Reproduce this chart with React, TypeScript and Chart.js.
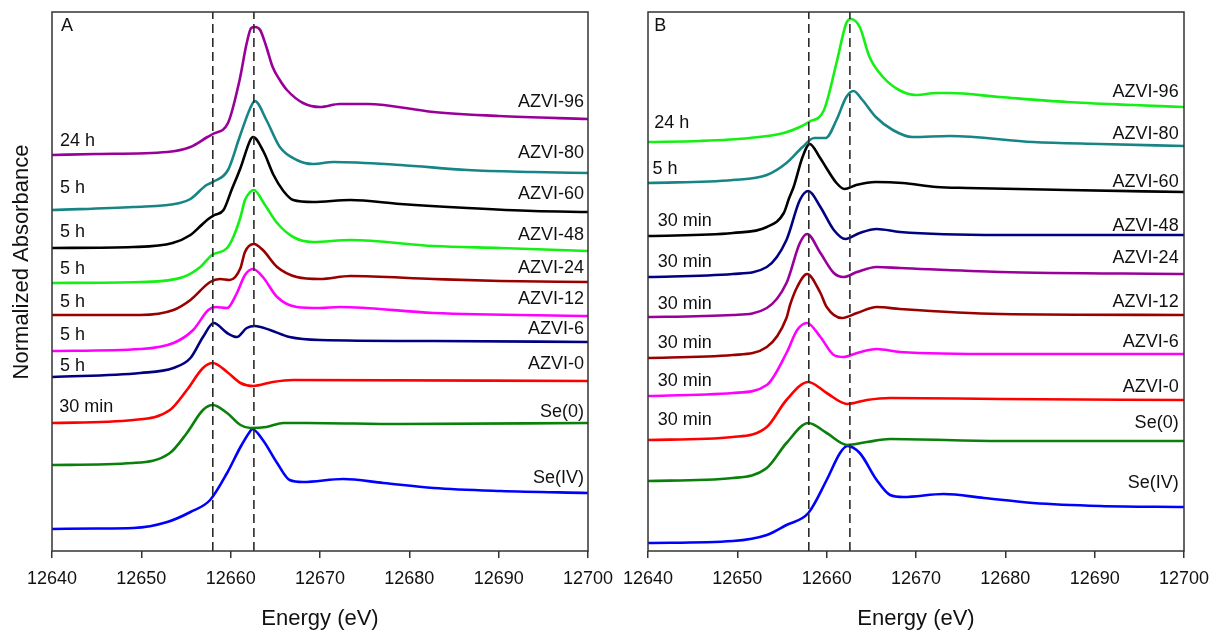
import React, { useEffect, useRef } from "react";
import { Chart, registerables } from "chart.js";

Chart.register(...registerables);

const FONT = '"Liberation Sans", Arial, Helvetica, sans-serif';

// ---- axes ----
const X_MIN = 12640;
const X_MAX = 12700;
const X_STEP = 10;
const Y_MIN = 0;
const Y_MAX = 5.39;
const DASH_E = [12658, 12662.6];

// ---- colours ----
const PURPLE = "#990099";
const TEAL = "#178585";
const BLACK = "#000000";
const LIME = "#14f014";
const DARKRED = "#990000";
const MAGENTA = "#ff00ff";
const NAVY = "#000080";
const RED = "#ff0000";
const GREEN = "#0a800a";
const BLUE = "#0000ff";

// ---- Panel A data (energy eV, offset normalized absorbance) ----
const A_96_E = [12640, 12645, 12652.9, 12655.5, 12657.4, 12658, 12659.7, 12661, 12661.8, 12662.3, 12662.7, 12663.3, 12664, 12664.7, 12665.5, 12666.3, 12668.1, 12670, 12672.2, 12675.3, 12682.7, 12690, 12700];
const A_96_Y = [3.96, 3.97, 3.99, 4.04, 4.14, 4.17, 4.28, 4.71, 5.08, 5.23, 5.24, 5.21, 5.04, 4.84, 4.71, 4.61, 4.48, 4.44, 4.47, 4.47, 4.39, 4.35, 4.32];

const A_80_E = [12640, 12649.1, 12654.3, 12655.5, 12657.3, 12658, 12659.7, 12661, 12662.2, 12662.7, 12664, 12665.5, 12667.4, 12669.2, 12671.5, 12679, 12686.5, 12693.9, 12700];
const A_80_Y = [3.41, 3.44, 3.48, 3.52, 3.66, 3.69, 3.81, 4.14, 4.43, 4.5, 4.31, 4.04, 3.91, 3.87, 3.89, 3.86, 3.81, 3.79, 3.78];

const A_60_E = [12640, 12649.1, 12653.5, 12655.5, 12656.5, 12657.5, 12658.2, 12659.2, 12660.1, 12661.1, 12662.2, 12662.5, 12663.7, 12664.8, 12665.9, 12667, 12669.2, 12673.4, 12679, 12686.5, 12693.9, 12700];
const A_60_Y = [3.03, 3.04, 3.08, 3.16, 3.24, 3.32, 3.36, 3.41, 3.61, 3.83, 4.11, 4.14, 3.99, 3.76, 3.6, 3.51, 3.49, 3.51, 3.47, 3.43, 3.4, 3.39];

const A_48_E = [12640, 12649.9, 12654.7, 12656.6, 12657.9, 12659.6, 12660.3, 12661.1, 12661.6, 12662.2, 12662.6, 12663.7, 12665.2, 12667, 12669.2, 12673.4, 12682.7, 12690.2, 12700];
const A_48_Y = [2.68, 2.69, 2.74, 2.84, 2.96, 3.03, 3.14, 3.34, 3.51, 3.59, 3.61, 3.48, 3.28, 3.14, 3.09, 3.11, 3.05, 3.03, 3.0];

const A_24_E = [12640, 12649.9, 12653.6, 12655.5, 12657.7, 12658.8, 12659.9, 12661.1, 12661.6, 12662.6, 12663.6, 12665.2, 12667.4, 12670, 12673.4, 12682.7, 12690.2, 12700];
const A_24_Y = [2.36, 2.36, 2.41, 2.51, 2.69, 2.72, 2.71, 2.83, 2.99, 3.07, 3.01, 2.84, 2.74, 2.72, 2.75, 2.72, 2.7, 2.69];

const A_12_E = [12640, 12649.9, 12653.6, 12655.8, 12657.5, 12658.3, 12659.6, 12660.7, 12661.6, 12662.5, 12663.6, 12665.2, 12667.4, 12670, 12672.2, 12682.7, 12700];
const A_12_Y = [2.0, 2.02, 2.08, 2.21, 2.41, 2.44, 2.43, 2.58, 2.76, 2.82, 2.74, 2.54, 2.44, 2.43, 2.44, 2.38, 2.35];

const A_6_E = [12640, 12649.9, 12653.6, 12655.5, 12656.9, 12658.1, 12659.6, 12660.7, 12661.8, 12662.7, 12664.4, 12666.6, 12670, 12682.7, 12700];
const A_6_Y = [1.74, 1.78, 1.83, 1.93, 2.14, 2.28, 2.18, 2.14, 2.23, 2.25, 2.21, 2.14, 2.11, 2.1, 2.09];

const A_0_E = [12640, 12649.1, 12653.2, 12655.1, 12656.9, 12658, 12659.6, 12661.1, 12662.5, 12664.7, 12667, 12700];
const A_0_Y = [1.28, 1.31, 1.41, 1.61, 1.83, 1.88, 1.79, 1.68, 1.65, 1.69, 1.71, 1.7];

const A_SE0_E = [12640, 12649.1, 12653.2, 12655.1, 12656.9, 12658, 12659.6, 12661.1, 12662.2, 12664, 12665.9, 12668.5, 12679, 12700];
const A_SE0_Y = [0.86, 0.88, 0.98, 1.18, 1.41, 1.46, 1.38, 1.26, 1.23, 1.24, 1.28, 1.28, 1.27, 1.28];

const A_SE4_E = [12640, 12645, 12649.1, 12652.9, 12655.5, 12657.7, 12659.6, 12661.1, 12662.2, 12662.4, 12663.6, 12665.2, 12666.6, 12668.1, 12672.6, 12677.1, 12682.7, 12690.2, 12700];
const A_SE4_Y = [0.22, 0.225, 0.23, 0.29, 0.39, 0.51, 0.78, 1.04, 1.2, 1.22, 1.11, 0.88, 0.71, 0.69, 0.72, 0.68, 0.63, 0.6, 0.58];

// ---- Panel B data ----
const B_96_E = [12640, 12645.8, 12651.4, 12655.2, 12657, 12658, 12659.7, 12661.1, 12662.2, 12662.7, 12663.7, 12664.8, 12666.3, 12668.1, 12670, 12672.3, 12673.8, 12679.4, 12686.9, 12694.3, 12700];
const B_96_Y = [4.09, 4.1, 4.13, 4.18, 4.24, 4.29, 4.41, 4.88, 5.28, 5.32, 5.24, 4.94, 4.74, 4.61, 4.56, 4.58, 4.58, 4.54, 4.49, 4.46, 4.44];

const B_80_E = [12640, 12649.5, 12653.3, 12655.5, 12657.3, 12658.6, 12659.9, 12661.1, 12662.2, 12663, 12664, 12665.5, 12667.4, 12669.6, 12673.8, 12683.1, 12690.6, 12700];
const B_80_Y = [3.68, 3.71, 3.76, 3.88, 4.04, 4.13, 4.13, 4.31, 4.54, 4.6, 4.51, 4.34, 4.21, 4.14, 4.15, 4.09, 4.07, 4.05];

const B_60_E = [12640, 12649.5, 12653.3, 12655.2, 12655.8, 12656.3, 12657.3, 12658.1, 12659.2, 12659.9, 12661.1, 12662, 12663.3, 12665.5, 12668.5, 12672.3, 12675.7, 12686.9, 12700];
const B_60_Y = [3.15, 3.18, 3.24, 3.38, 3.53, 3.64, 3.94, 4.07, 3.94, 3.84, 3.68, 3.62, 3.66, 3.69, 3.68, 3.64, 3.63, 3.61, 3.59];

const B_48_E = [12640, 12649.5, 12653.3, 12655.5, 12657, 12657.95, 12659.3, 12660.8, 12662.1, 12663.7, 12665.6, 12668.2, 12679.4, 12700];
const B_48_Y = [2.74, 2.77, 2.84, 3.11, 3.51, 3.6, 3.44, 3.21, 3.12, 3.18, 3.22, 3.19, 3.16, 3.16];

const B_24_E = [12640, 12649.5, 12653.3, 12655.5, 12657, 12657.8, 12659.3, 12660.8, 12661.9, 12663.4, 12665.6, 12668.2, 12679.4, 12700];
const B_24_Y = [2.34, 2.36, 2.43, 2.68, 3.08, 3.17, 2.98, 2.78, 2.74, 2.79, 2.84, 2.83, 2.79, 2.77];

const B_12_E = [12640, 12649.5, 12653.3, 12655.5, 12655.9, 12656.7, 12657.8, 12659.3, 12660, 12661.7, 12663.4, 12665.6, 12668.2, 12679.4, 12700];
const B_12_Y = [1.93, 1.96, 2.04, 2.33, 2.46, 2.64, 2.77, 2.58, 2.44, 2.33, 2.38, 2.44, 2.42, 2.37, 2.36];

const B_6_E = [12640, 12649.5, 12653.3, 12655.5, 12656.7, 12657.8, 12659.3, 12660.8, 12661.9, 12663.4, 12665.6, 12668.2, 12679.4, 12700];
const B_6_Y = [1.55, 1.58, 1.66, 1.98, 2.21, 2.28, 2.14, 1.96, 1.94, 1.98, 2.02, 1.99, 1.97, 1.97];

const B_0_E = [12640, 12649.5, 12653.3, 12655.5, 12657.95, 12660, 12662.3, 12664.5, 12667.1, 12679.4, 12700];
const B_0_Y = [1.11, 1.14, 1.24, 1.51, 1.69, 1.58, 1.47, 1.51, 1.53, 1.52, 1.51];

const B_SE0_E = [12640, 12649.5, 12653.3, 12655.5, 12657.95, 12660, 12662.3, 12664.5, 12667.1, 12679.4, 12700];
const B_SE0_Y = [0.7, 0.73, 0.83, 1.08, 1.28, 1.18, 1.06, 1.09, 1.12, 1.1, 1.1];

const B_SE4_E = [12640, 12649.5, 12653.3, 12655.5, 12657.95, 12660, 12661.5, 12662.3, 12663.7, 12665.6, 12667.1, 12668.6, 12673.1, 12677.6, 12683.1, 12690.6, 12700];
const B_SE4_Y = [0.08, 0.1, 0.16, 0.26, 0.38, 0.71, 0.98, 1.05, 0.98, 0.71, 0.56, 0.54, 0.57, 0.53, 0.48, 0.45, 0.44];

// ---- labels ----
const SERIES_NAMES = ["AZVI-96", "AZVI-80", "AZVI-60", "AZVI-48", "AZVI-24", "AZVI-12", "AZVI-6", "AZVI-0", "Se(0)", "Se(IV)"];
const A_RIGHT_Y = [4.44, 3.93, 3.52, 3.11, 2.78, 2.47, 2.17, 1.82, 1.34, 0.68];
const A_RIGHT_X = 12699.55;
const A_LEFT_LABELS = ["24 h", "5 h", "5 h", "5 h", "5 h", "5 h", "5 h", "30 min"];
const A_LEFT_Y = [4.05, 3.58, 3.14, 2.77, 2.44, 2.11, 1.8, 1.39];
const A_LEFT_X = [12640.9, 12640.9, 12640.9, 12640.9, 12640.9, 12640.9, 12640.9, 12640.8];

const B_RIGHT_Y = [4.54, 4.12, 3.64, 3.2, 2.88, 2.44, 2.04, 1.59, 1.23, 0.63];
const B_RIGHT_X = 12699.4;
const B_LEFT_LABELS = ["24 h", "5 h", "30 min", "30 min", "30 min", "30 min", "30 min", "30 min"];
const B_LEFT_Y = [4.23, 3.77, 3.25, 2.84, 2.42, 2.03, 1.65, 1.26];
const B_LEFT_X = [12640.7, 12640.5, 12641.1, 12641.1, 12641.1, 12641.1, 12641.1, 12641.1];

const PANEL_LETTER_Y = 5.2;
const A_LETTER_X = 12641.0;
const B_LETTER_X = 12640.7;

const X_TITLE = "Energy (eV)";
const Y_TITLE = "Normalized Absorbance";

type Series = { name: string; e: number[]; y: number[]; color: string };

const A_SERIES: Series[] = [
  { name: SERIES_NAMES[0], e: A_96_E, y: A_96_Y, color: PURPLE },
  { name: SERIES_NAMES[1], e: A_80_E, y: A_80_Y, color: TEAL },
  { name: SERIES_NAMES[2], e: A_60_E, y: A_60_Y, color: BLACK },
  { name: SERIES_NAMES[3], e: A_48_E, y: A_48_Y, color: LIME },
  { name: SERIES_NAMES[4], e: A_24_E, y: A_24_Y, color: DARKRED },
  { name: SERIES_NAMES[5], e: A_12_E, y: A_12_Y, color: MAGENTA },
  { name: SERIES_NAMES[6], e: A_6_E, y: A_6_Y, color: NAVY },
  { name: SERIES_NAMES[7], e: A_0_E, y: A_0_Y, color: RED },
  { name: SERIES_NAMES[8], e: A_SE0_E, y: A_SE0_Y, color: GREEN },
  { name: SERIES_NAMES[9], e: A_SE4_E, y: A_SE4_Y, color: BLUE },
];

const B_SERIES: Series[] = [
  { name: SERIES_NAMES[0], e: B_96_E, y: B_96_Y, color: LIME },
  { name: SERIES_NAMES[1], e: B_80_E, y: B_80_Y, color: TEAL },
  { name: SERIES_NAMES[2], e: B_60_E, y: B_60_Y, color: BLACK },
  { name: SERIES_NAMES[3], e: B_48_E, y: B_48_Y, color: NAVY },
  { name: SERIES_NAMES[4], e: B_24_E, y: B_24_Y, color: PURPLE },
  { name: SERIES_NAMES[5], e: B_12_E, y: B_12_Y, color: DARKRED },
  { name: SERIES_NAMES[6], e: B_6_E, y: B_6_Y, color: MAGENTA },
  { name: SERIES_NAMES[7], e: B_0_E, y: B_0_Y, color: RED },
  { name: SERIES_NAMES[8], e: B_SE0_E, y: B_SE0_Y, color: GREEN },
  { name: SERIES_NAMES[9], e: B_SE4_E, y: B_SE4_Y, color: BLUE },
];

type PanelCfg = {
  left: number;
  width: number;
  padL: number;
  padR: number;
  series: Series[];
  letter: string;
  letterX: number;
  rightY: number[];
  rightX: number;
  leftLabels: string[];
  leftY: number[];
  leftX: number[];
  yTitle: boolean;
};

const PANELS: PanelCfg[] = [
  {
    left: 0, width: 640, padL: 52, padR: 52, series: A_SERIES, letter: "A", letterX: A_LETTER_X,
    rightY: A_RIGHT_Y, rightX: A_RIGHT_X, leftLabels: A_LEFT_LABELS, leftY: A_LEFT_Y, leftX: A_LEFT_X, yTitle: true,
  },
  {
    left: 600, width: 630, padL: 48, padR: 46, series: B_SERIES, letter: "B", letterX: B_LETTER_X,
    rightY: B_RIGHT_Y, rightX: B_RIGHT_X, leftLabels: B_LEFT_LABELS, leftY: B_LEFT_Y, leftX: B_LEFT_X, yTitle: false,
  },
];

function buildDatasets(series: Series[]) {
  const ds: any[] = [];
  DASH_E.forEach((e) => {
    ds.push({
      data: [{ x: e, y: Y_MIN }, { x: e, y: Y_MAX }],
      borderColor: "#2a2a2a",
      borderWidth: 1.6,
      borderDash: [9, 5],
      pointRadius: 0,
      fill: false,
    });
  });
  series.forEach((s) => {
    ds.push({
      label: s.name,
      data: s.e.map((x, i) => ({ x, y: s.y[i] })),
      borderColor: s.color,
      borderWidth: 2.6,
      pointRadius: 0,
      fill: false,
      cubicInterpolationMode: "monotone",
    });
  });
  return ds;
}

function annotPlugin(cfg: PanelCfg) {
  return {
    id: "annot" + cfg.letter,
    afterDatasetsDraw(chart: any) {
      const ctx = chart.ctx;
      const { left, right, top, bottom } = chart.chartArea;
      const xs = chart.scales.x;
      const ys = chart.scales.y;
      ctx.save();
      ctx.strokeStyle = "#333";
      ctx.lineWidth = 1.5;
      ctx.setLineDash([]);
      ctx.strokeRect(left, top, right - left, bottom - top);

      ctx.fillStyle = "#111";
      ctx.textBaseline = "alphabetic";
      ctx.font = "18px " + FONT;

      ctx.textAlign = "right";
      cfg.series.forEach((s, i) => {
        ctx.fillText(s.name, xs.getPixelForValue(cfg.rightX), ys.getPixelForValue(cfg.rightY[i]));
      });

      ctx.textAlign = "left";
      cfg.leftLabels.forEach((t, i) => {
        ctx.fillText(t, xs.getPixelForValue(cfg.leftX[i]), ys.getPixelForValue(cfg.leftY[i]));
      });
      ctx.fillText(cfg.letter, xs.getPixelForValue(cfg.letterX), ys.getPixelForValue(PANEL_LETTER_Y));

      ctx.font = "22px " + FONT;
      ctx.textAlign = "center";
      ctx.fillText(X_TITLE, (left + right) / 2, bottom + 74);

      if (cfg.yTitle) {
        ctx.save();
        ctx.translate(left - 24, top + 250);
        ctx.rotate(-Math.PI / 2);
        ctx.textAlign = "center";
        ctx.fillText(Y_TITLE, 0, 0);
        ctx.restore();
      }
      ctx.restore();
    },
  };
}

function Panel({ cfg }: { cfg: PanelCfg }) {
  const ref = useRef<HTMLCanvasElement>(null);
  useEffect(() => {
    const chart = new Chart(ref.current as HTMLCanvasElement, {
      type: "line",
      data: { datasets: buildDatasets(cfg.series) },
      options: {
        animation: false,
        responsive: false,
        maintainAspectRatio: false,
        events: [],
        layout: { padding: { left: cfg.padL, right: cfg.padR, top: 12, bottom: 0 } },
        plugins: { legend: { display: false }, tooltip: { enabled: false } },
        scales: {
          x: {
            type: "linear",
            min: X_MIN,
            max: X_MAX,
            ticks: {
              stepSize: X_STEP,
              autoSkip: false,
              maxRotation: 0,
              padding: 10,
              color: "#111",
              font: { size: 18, family: FONT },
              callback: (v: any) => String(v),
            },
            grid: {
              display: true,
              drawOnChartArea: false,
              drawTicks: true,
              tickLength: 7,
              color: "#333",
              lineWidth: 1.5,
            },
            border: { display: false },
            afterFit: (scale: any) => {
              scale.height = 79;
            },
          },
          y: { type: "linear", min: Y_MIN, max: Y_MAX, display: false },
        },
      } as any,
      plugins: [annotPlugin(cfg)],
    });
    return () => chart.destroy();
  }, []);
  return (
    <canvas
      ref={ref}
      width={cfg.width}
      height={630}
      style={{ position: "absolute", left: cfg.left, top: 0, width: cfg.width, height: 630 }}
    />
  );
}

export default function App() {
  return (
    <div
      style={{
        position: "absolute",
        left: 0,
        top: 0,
        width: 1211,
        height: 630,
        overflow: "hidden",
        background: "#fff",
      }}
    >
      {PANELS.map((p) => (
        <Panel key={p.letter} cfg={p} />
      ))}
    </div>
  );
}
